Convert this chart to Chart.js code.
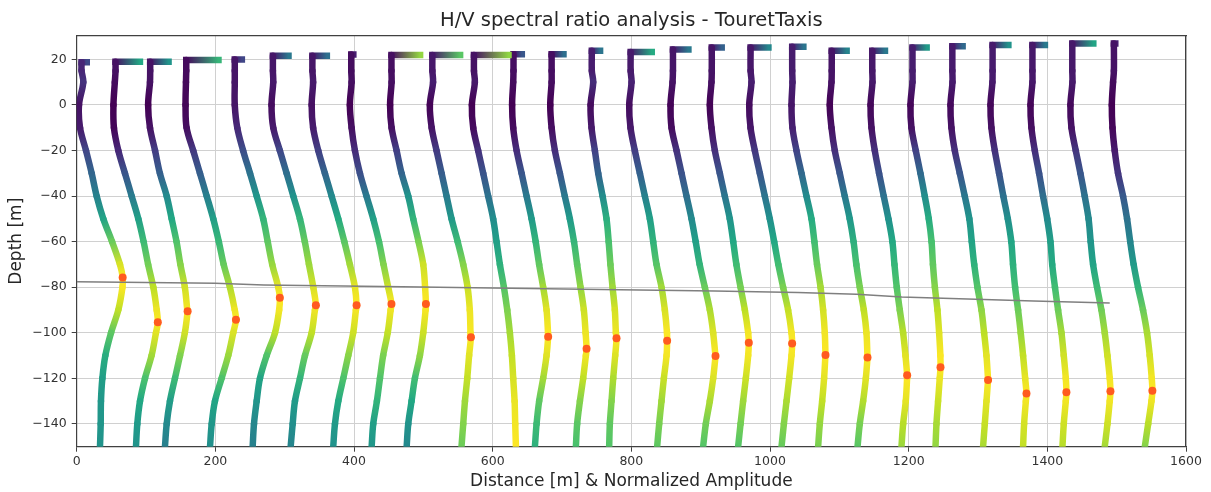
<!DOCTYPE html>
<html>
<head>
<meta charset="utf-8">
<title>H/V spectral ratio analysis - TouretTaxis</title>
<script src="https://cdn.jsdelivr.net/npm/chart.js@4.4.1/dist/chart.umd.min.js"></script>
<style>
  html, body { margin: 0; padding: 0; background: #ffffff; }
  #wrap { width: 1211px; height: 492px; }
</style>
</head>
<body>
<div id="wrap"><canvas id="hvChart" width="1211" height="492"></canvas></div>
<script>
Chart.defaults.font.family = '"DejaVu Sans", sans-serif';
Chart.defaults.color = '#333333';

// elevations (m) at which each H/V profile is sampled
const levels = [15, 10, 0, -10, -20, -30, -40, -50, -60, -70, -80, -90, -100, -110, -120, -130, -140, -150];

// axis ticks
const depthTicks = [-140, -120, -100, -80, -60, -40, -20, 0, 20];
const distanceTicks = [0, 200, 400, 600, 800, 1000, 1200, 1400, 1600];

// station distance along the profile (m)
const stations = [0, 53, 103, 156, 224, 279, 336, 394, 452, 509, 570, 628, 683, 740, 795,
                  856, 913, 968, 1028, 1086, 1144, 1202, 1259, 1317, 1375, 1432, 1493];

// ground surface elevation of each station (m)
const surface = [18.7, 19, 19, 19.7, 20, 21.6, 21.6, 22.2, 21.9, 21.9, 21.9, 22.3, 22.3, 23.8,
                 23.3, 24.3, 25.2, 25.2, 25.5, 23.8, 23.8, 25.2, 25.8, 26.3, 26.3, 27, 27];

// amplitude reached at the surface (high-frequency end)
const hookAmp = [14.5, 38.2, 29.5, 48.5, 14.2, 26.5, 24.8, 5, 43.3, 44, 52.8, 14, 19.1, 14.9,
                 34.4, 26.3, 17.3, 29.7, 20.1, 24.5, 21.8, 23.9, 18.8, 26.8, 21.5, 34.3, 5];

// picked H/V peak: depth (m) and amplitude
const peakDepth = [-75.7, -95.4, -90.6, -94.3, -84.6, -87.9, -87.9, -87.4, -87.4, -102, null,
                   -101.7, -107, -102.4, -103.5, -110.2, -104.4, -104.7, -109.7, -110.8,
                   -118.6, -115.1, -120.7, -126.6, -126.1, -125.7, -125.4];
const peakAmp = [66.3, 64, 57, 73.7, 69, 66, 67.7, 60, 51.7, 59.6, null, 52, 52.4, 38.6, 56.6,
                 65.4, 56.4, 63.9, 52, 54.6, 53.8, 43.9, 55.5, 52.9, 52.5, 59, 58.5];

// normalized amplitude (scaled to metres) of each station at the levels above
const profiles = [
  [7, 9.5, 3.3, 4.8, 13.4, 21.6, 28.8, 38.4, 51, 62.4, 66, 60, 49.5, 41.3, 37, 35, 34.6, 33.6],
  [3, 2, 0, 0.7, 7, 16.6, 26.3, 35.9, 43.5, 50, 57.5, 62.4, 61.3, 55, 45.5, 38.3, 34.4, 32.5],
  [3, 2.7, 0, 2.7, 10, 17, 26.8, 34, 41, 46.5, 53, 56.5, 53, 46, 38.7, 31.5, 26.8, 24.3],
  [2, 1.6, 1, 2.5, 12, 21.8, 31.5, 41, 49, 56, 65, 72, 69.8, 62.6, 53, 43.4, 38.7, 36.3],
  [4, 4, 4, 7.6, 16, 26, 35.6, 45, 51.5, 58, 66.7, 68, 62, 50, 40.3, 35.6, 31.7, 29.8],
  [4, 4.5, 2, 4.5, 14, 23.8, 33.4, 43, 50, 56, 62.2, 64.6, 59.9, 50.2, 43, 35.8, 32.5, 29.6],
  [4, 5, 2.9, 5, 12.4, 22, 31.7, 41.3, 50, 58, 65.3, 66.7, 62.8, 55.7, 48.5, 41.3, 36.5, 34],
  [2, 2.5, 0, 2.5, 7.3, 14.5, 24, 33.7, 42, 48.5, 55.3, 58.8, 54.6, 48, 43.4, 39, 33.7, 31.4],
  [2, 2.2, 0, 2.2, 9.4, 16.6, 26.2, 33.4, 41, 47.8, 50.5, 51.2, 47.8, 43, 35.8, 31, 26.2, 23.9],
  [4, 5, 0.4, 3, 10, 17.3, 24.5, 31.7, 40.5, 48.5, 54.8, 58, 59, 57, 54.3, 51, 48.5, 46],
  [3, 4.3, 0, 1.9, 9, 16.3, 23.5, 30.7, 35.6, 40.4, 46.2, 51, 54.8, 57.7, 59.6, 61.6, 62.5, 63.5],
  [2, 1.6, 0, 1.6, 6.5, 13.7, 20.9, 28.1, 34, 39, 44.8, 49.7, 51.8, 49.7, 44.8, 39, 35.3, 32.9],
  [2, 2, 0, 2, 6.7, 13.9, 21, 28.3, 34.3, 38.8, 43.7, 48.5, 51, 51.4, 47.5, 42.8, 38.8, 37],
  [3, 5, 1.2, 2.6, 7.4, 12.2, 18.5, 24.2, 27.3, 29.8, 32.9, 36.2, 37.7, 36.7, 33.8, 31.4, 29, 28],
  [4, 5.3, 1.9, 3.8, 10, 17.3, 24.5, 31.7, 36.5, 41.3, 48.5, 53.3, 56.4, 55.8, 51.9, 48.5, 45.1, 42.2],
  [4, 3.4, 0.5, 2, 9.2, 16.4, 23.6, 30.8, 36.8, 42.5, 50, 57.2, 62, 65.3, 62, 57.2, 51.4, 47.5],
  [3, 2.6, 0.2, 2.6, 7.4, 14.6, 21.8, 29, 33.9, 38.5, 44.5, 50.7, 55.5, 55.5, 52.1, 48.2, 44.5, 41],
  [4, 5.3, 2, 3.9, 10.1, 17.3, 24.5, 31.7, 38, 44, 50.9, 58.1, 63, 63, 59.6, 55.8, 52, 48.6],
  [4, 4.4, 3, 4.4, 10.2, 17.4, 24.6, 31.8, 36, 39.8, 44.9, 48.6, 51, 51.9, 50, 47.2, 43.8, 41.4],
  [3, 2.7, 0.2, 2.7, 7.4, 14.6, 21.8, 29, 34.5, 38.5, 43.5, 49.3, 53.1, 54.5, 52.2, 48.3, 43.5, 40.2],
  [3.5, 3.8, 1, 2.4, 7.1, 13.3, 20, 26.8, 32.5, 35.5, 38.8, 43.2, 48, 51.4, 53.7, 51.8, 48, 45.6],
  [3.5, 3.5, 0.6, 2, 8.2, 15, 21.2, 27, 31, 33, 35.8, 39.5, 41.9, 43.7, 42.8, 40.4, 38.1, 36.7],
  [4, 4.2, 1.3, 2.7, 7.5, 14.7, 21.9, 28.5, 32, 35.5, 40.2, 46, 49.8, 53.2, 55.4, 53.2, 50.8, 48.3],
  [4, 3.8, 1, 2.4, 7.2, 13.4, 19.5, 26, 31, 33.5, 36.5, 40.8, 44.6, 48, 51, 52, 49.5, 48],
  [3.5, 3.5, 0.7, 2.1, 6.9, 13.1, 18.8, 24.8, 29.5, 32, 36, 40.5, 45.4, 48.7, 51.6, 51.6, 48.7, 46.8],
  [4, 4.2, 1.3, 2.8, 9, 15.7, 21.9, 27.5, 30.5, 34, 39.7, 46, 50.8, 54.7, 58, 58, 54.7, 50.8],
  [3, 1.8, 0, 1, 4.2, 9, 16.2, 22, 26.5, 31.5, 37.8, 45, 50.8, 54.7, 57.6, 57.2, 52.4, 47.6]
];

// interpreted interface
const interfaceX = [0, 200, 270, 470, 730, 920, 1040, 1125, 1190, 1380, 1490];
const interfaceY = [-77.6, -78.3, -79, -79.8, -80.9, -81.7, -82.3, -83.1, -84.3, -86.1, -86.9];

// viridis colormap, sampled every 0.1
const viridisStops = [
  [68, 1, 84], [72, 36, 117], [65, 68, 135], [53, 95, 141], [42, 120, 142], [33, 145, 140],
  [34, 168, 132], [68, 191, 112], [122, 209, 81], [189, 223, 38], [253, 231, 37]
];

function viridis(t) {
  t = Math.min(1, Math.max(0, t));
  const f = t * (viridisStops.length - 1);
  const i = Math.min(Math.floor(f), viridisStops.length - 2);
  const w = f - i;
  const a = viridisStops[i], b = viridisStops[i + 1];
  const c = a.map((v, k) => Math.round(v + (b[k] - v) * w));
  return 'rgb(' + c.join(',') + ')';
}

// each segment fades between the colours of its two end points
function segmentGradient(points, base, maxAmp) {
  return function(ctx) {
    const xs = ctx.chart.scales.x, ys = ctx.chart.scales.y;
    const a = points[ctx.p0DataIndex], b = points[ctx.p1DataIndex];
    const g = ctx.chart.ctx.createLinearGradient(
      xs.getPixelForValue(a.x), ys.getPixelForValue(a.y),
      xs.getPixelForValue(b.x), ys.getPixelForValue(b.y));
    g.addColorStop(0, viridis((a.x - base) / maxAmp));
    g.addColorStop(1, viridis((b.x - base) / maxAmp));
    return g;
  };
}

const datasets = [];

// picked peaks
const peakPoints = [];
stations.forEach((st, i) => {
  if (peakDepth[i] !== null) peakPoints.push({x: st + peakAmp[i], y: peakDepth[i]});
});
datasets.push({
  data: peakPoints,
  order: 0,
  pointRadius: 4,
  pointBackgroundColor: '#ff5b1f',
  pointBorderColor: '#ff5b1f',
  pointBorderWidth: 0
});

datasets.push({
  data: interfaceX.map((x, i) => ({x: x, y: interfaceY[i]})),
  order: 1,
  showLine: true,
  borderColor: '#7f7f7f',
  borderWidth: 1.5,
  pointRadius: 0,
  tension: 0
});

stations.forEach((st, i) => {
  const amps = profiles[i];
  const body = [{x: st + amps[0], y: surface[i]}];
  levels.forEach((lv, k) => body.push({x: st + amps[k], y: lv}));
  if (peakDepth[i] !== null) body.push({x: st + peakAmp[i], y: peakDepth[i]});
  body.sort((p, q) => q.y - p.y);

  let maxAmp = Math.max(hookAmp[i], ...amps);
  if (peakAmp[i] !== null) maxAmp = Math.max(maxAmp, peakAmp[i]);

  datasets.push({
    data: body,
    order: 2,
    showLine: true,
    pointRadius: 0,
    borderWidth: 6.5,
    borderCapStyle: 'round',
    borderJoinStyle: 'round',
    tension: 0.35,
    clip: 0,
    segment: { borderColor: segmentGradient(body, st, maxAmp) }
  });

  const hook = [{x: st + amps[0], y: surface[i]}, {x: st + hookAmp[i], y: surface[i]}];
  datasets.push({
    data: hook,
    order: 2,
    showLine: true,
    pointRadius: 0,
    borderWidth: 6.5,
    borderCapStyle: 'square',
    tension: 0,
    segment: { borderColor: segmentGradient(hook, st, maxAmp) }
  });
});

const gridColor = '#d0d0d0';
const frameColor = '#404040';
const tickFont = { size: 12.5 };
const minusSign = v => (v < 0 ? '\u2212' + Math.abs(v) : String(v));

new Chart(document.getElementById('hvChart'), {
  type: 'scatter',
  data: { datasets: datasets },
  options: {
    responsive: false,
    devicePixelRatio: 1,
    animation: false,
    events: [],
    layout: { padding: { left: 0, right: 25, top: 0, bottom: 0 } },
    plugins: {
      legend: { display: false },
      tooltip: { enabled: false },
      title: {
        display: true,
        text: 'H/V spectral ratio analysis - TouretTaxis',
        fullSize: false,
        color: '#262626',
        font: { size: 19.5, weight: 'normal' },
        padding: { top: 9, bottom: 3.3 }
      }
    },
    scales: {
      x: {
        type: 'linear',
        min: 0,
        max: 1600,
        ticks: { font: tickFont, color: '#333333', padding: 2.5, maxRotation: 0, autoSkip: false,
                 callback: v => String(v) },
        afterBuildTicks: s => { s.ticks = distanceTicks.map(v => ({ value: v })); },
        grid: { color: gridColor, lineWidth: 1, tickLength: 5, tickColor: frameColor },
        border: { display: true, color: frameColor, width: 1.2 },
        title: { display: true, text: 'Distance [m] & Normalized Amplitude', color: '#262626',
                 font: { size: 17 }, padding: { top: 0, bottom: 0.5 } },
        afterFit: s => { s.height = 45.3; }
      },
      y: {
        type: 'linear',
        min: -150,
        max: 30.4,
        ticks: { font: tickFont, color: '#333333', padding: 5, autoSkip: false, callback: minusSign },
        afterBuildTicks: s => { s.ticks = depthTicks.map(v => ({ value: v })); },
        grid: { color: gridColor, lineWidth: 1, tickLength: 5, tickColor: frameColor },
        border: { display: true, color: frameColor, width: 1.2 },
        title: { display: true, text: 'Depth [m]', color: '#262626',
                 font: { size: 17 }, padding: { top: 6.6, bottom: 0 } },
        afterFit: s => { s.width = 76.7; }
      },
      xTop: {
        type: 'linear',
        position: 'top',
        grid: { display: false, drawTicks: false },
        ticks: { display: false },
        border: { display: true, color: frameColor, width: 1.2 },
        afterFit: s => { s.height = 0; }
      },
      yRight: {
        type: 'linear',
        position: 'right',
        grid: { display: false, drawTicks: false },
        ticks: { display: false },
        border: { display: true, color: frameColor, width: 1.2 },
        afterFit: s => { s.width = 0; }
      }
    }
  }
});
</script>
</body>
</html>
